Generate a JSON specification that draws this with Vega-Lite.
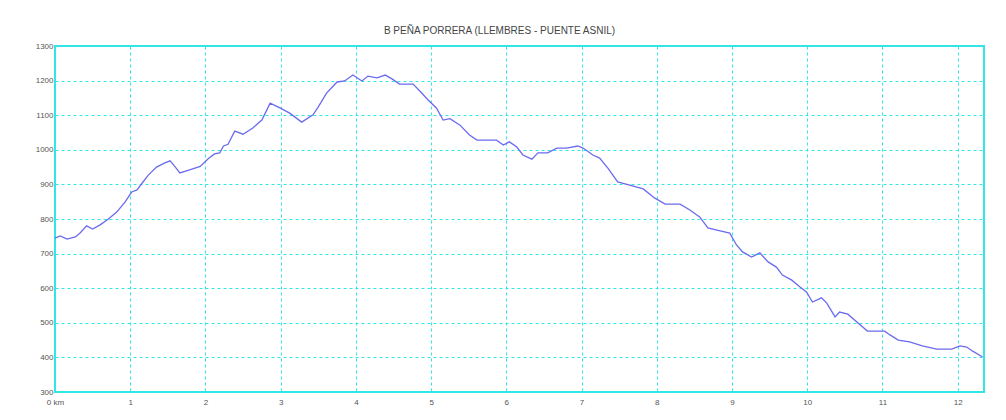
{
  "$schema": "https://vega.github.io/schema/vega-lite/v6.json",
  "autosize": "none",
  "width": 929,
  "height": 346,
  "padding": {"left": 55, "top": 46, "right": 22, "bottom": 28},
  "background": "white",
  "title": {
    "text": "B PEÑA PORRERA (LLEMBRES - PUENTE ASNIL)",
    "fontSize": 10,
    "font": "Liberation Sans",
    "fontWeight": "normal",
    "color": "#444444",
    "offset": 6,
    "dx": -20
  },
  "config": {
    "view": {"stroke": "#33e6e6", "strokeWidth": 2},
    "axis": {
      "labelFont": "Liberation Sans",
      "labelFontSize": 8,
      "labelColor": "#555555",
      "domain": false,
      "ticks": false,
      "grid": true,
      "gridColor": "#33e6e6",
      "gridDash": [3, 3],
      "gridWidth": 1,
      "gridOpacity": 1,
      "title": null
    }
  },
  "data": {
    "values": [
      {"km": 0.0, "elev": 745},
      {"km": 0.07, "elev": 751},
      {"km": 0.16, "elev": 742},
      {"km": 0.27, "elev": 748},
      {"km": 0.33, "elev": 759},
      {"km": 0.42, "elev": 780},
      {"km": 0.5, "elev": 771},
      {"km": 0.6, "elev": 783},
      {"km": 0.71, "elev": 800},
      {"km": 0.82, "elev": 820},
      {"km": 0.93, "elev": 849},
      {"km": 1.02, "elev": 878},
      {"km": 1.09, "elev": 884},
      {"km": 1.16, "elev": 904},
      {"km": 1.24, "elev": 927},
      {"km": 1.35, "elev": 950},
      {"km": 1.46, "elev": 962},
      {"km": 1.53, "elev": 968},
      {"km": 1.6, "elev": 950},
      {"km": 1.66, "elev": 933},
      {"km": 1.79, "elev": 942},
      {"km": 1.93, "elev": 952},
      {"km": 2.04, "elev": 975},
      {"km": 2.12, "elev": 988},
      {"km": 2.19, "elev": 991},
      {"km": 2.24, "elev": 1011},
      {"km": 2.3, "elev": 1016},
      {"km": 2.39, "elev": 1054},
      {"km": 2.5, "elev": 1045},
      {"km": 2.63, "elev": 1063},
      {"km": 2.75, "elev": 1086},
      {"km": 2.86, "elev": 1135},
      {"km": 2.99, "elev": 1121},
      {"km": 3.12, "elev": 1106},
      {"km": 3.28, "elev": 1080},
      {"km": 3.43, "elev": 1101},
      {"km": 3.5, "elev": 1124},
      {"km": 3.61, "elev": 1164},
      {"km": 3.75, "elev": 1196},
      {"km": 3.85, "elev": 1199},
      {"km": 3.96, "elev": 1216},
      {"km": 4.08, "elev": 1199},
      {"km": 4.16, "elev": 1213},
      {"km": 4.28, "elev": 1208},
      {"km": 4.39, "elev": 1216},
      {"km": 4.48, "elev": 1205},
      {"km": 4.58, "elev": 1190},
      {"km": 4.76, "elev": 1190},
      {"km": 4.85, "elev": 1170},
      {"km": 4.96, "elev": 1144},
      {"km": 5.07, "elev": 1121},
      {"km": 5.16, "elev": 1086},
      {"km": 5.25, "elev": 1090},
      {"km": 5.38, "elev": 1072},
      {"km": 5.51, "elev": 1043},
      {"km": 5.61, "elev": 1028},
      {"km": 5.87, "elev": 1028},
      {"km": 5.96, "elev": 1014},
      {"km": 6.04, "elev": 1023},
      {"km": 6.14, "elev": 1008},
      {"km": 6.22, "elev": 985},
      {"km": 6.34, "elev": 973},
      {"km": 6.42, "elev": 991},
      {"km": 6.55, "elev": 991},
      {"km": 6.67, "elev": 1005},
      {"km": 6.8, "elev": 1005},
      {"km": 6.95, "elev": 1011},
      {"km": 7.02, "elev": 1005},
      {"km": 7.15, "elev": 985},
      {"km": 7.24, "elev": 976},
      {"km": 7.35, "elev": 947},
      {"km": 7.48, "elev": 907},
      {"km": 7.64, "elev": 898},
      {"km": 7.82, "elev": 887},
      {"km": 7.97, "elev": 861},
      {"km": 8.11, "elev": 843},
      {"km": 8.31, "elev": 843},
      {"km": 8.44, "elev": 826},
      {"km": 8.57, "elev": 806},
      {"km": 8.68, "elev": 774},
      {"km": 8.8, "elev": 768},
      {"km": 8.97, "elev": 759},
      {"km": 9.06, "elev": 725},
      {"km": 9.14, "elev": 705},
      {"km": 9.26, "elev": 690},
      {"km": 9.37, "elev": 702},
      {"km": 9.48, "elev": 676},
      {"km": 9.59, "elev": 661},
      {"km": 9.67, "elev": 638},
      {"km": 9.79, "elev": 624},
      {"km": 9.9, "elev": 604},
      {"km": 9.99, "elev": 589},
      {"km": 10.07, "elev": 560},
      {"km": 10.19, "elev": 572},
      {"km": 10.26, "elev": 557},
      {"km": 10.37, "elev": 517},
      {"km": 10.43, "elev": 531},
      {"km": 10.54, "elev": 525},
      {"km": 10.66, "elev": 502},
      {"km": 10.8, "elev": 476},
      {"km": 11.03, "elev": 476},
      {"km": 11.1, "elev": 465},
      {"km": 11.21, "elev": 450},
      {"km": 11.36, "elev": 445},
      {"km": 11.53, "elev": 433},
      {"km": 11.72, "elev": 424},
      {"km": 11.92, "elev": 424},
      {"km": 12.03, "elev": 433},
      {"km": 12.12, "elev": 430},
      {"km": 12.2, "elev": 418},
      {"km": 12.33, "elev": 401}
    ]
  },
  "mark": {"type": "line", "color": "#6b6bf0", "strokeWidth": 1.3, "interpolate": "linear"},
  "encoding": {
    "x": {
      "field": "km",
      "type": "quantitative",
      "scale": {"domain": [0, 12.35], "nice": false, "zero": false},
      "axis": {
        "values": [0, 1, 2, 3, 4, 5, 6, 7, 8, 9, 10, 11, 12],
        "labelExpr": "datum.value == 0 ? '0 km' : datum.value",
        "labelPadding": 6,
        "labelFlush": false
      }
    },
    "y": {
      "field": "elev",
      "type": "quantitative",
      "scale": {"domain": [300, 1300], "nice": false, "zero": false},
      "axis": {
        "values": [300, 400, 500, 600, 700, 800, 900, 1000, 1100, 1200, 1300],
        "format": "d",
        "labelPadding": 2,
        "labelFlush": false
      }
    }
  }
}
